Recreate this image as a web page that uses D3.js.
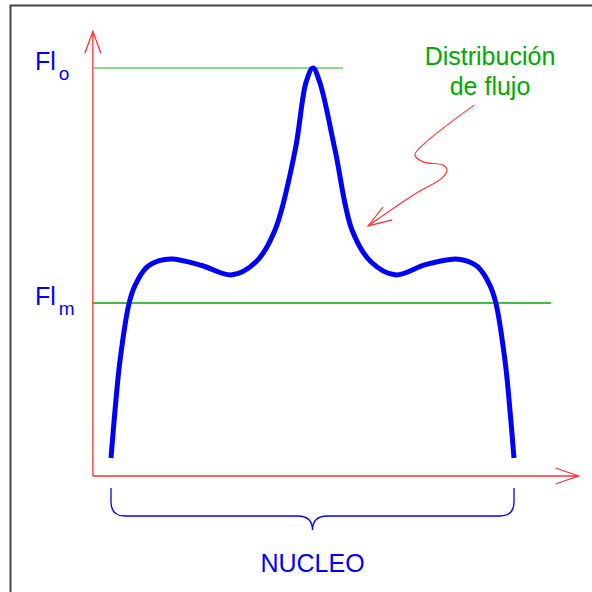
<!DOCTYPE html>
<html>
<head>
<meta charset="utf-8">
<script src="https://cdn.jsdelivr.net/npm/d3@7"></script>
<style>
  body { margin: 0; background: #fff; }
  svg { display: block; }
  text { font-family: "Liberation Sans", Arial, sans-serif; }
</style>
</head>
<body>
<div id="chart"></div>
<script>
// Flux profile across the core (x: % of core width, y: % of peak flux)
let position = [0, 0.9, 2.2, 4.5, 6.0, 8.9, 12.0, 15.4, 22.5, 30.0, 36.0, 40.7, 45.7, 48.4, 50.1,
                51.8, 55.6, 59.8, 64.5, 70.5, 78.0, 85.4, 88.0, 91.1, 94.0, 95.5, 97.8, 99.1, 100];
let flux = [4.4, 15.0, 28.0, 42.4, 46.8, 51.2, 52.8, 53.2, 51.6, 49.3, 52.5, 60.3, 79.9, 96.5, 100,
            96.5, 79.9, 60.3, 52.5, 49.3, 51.8, 53.2, 52.8, 51.2, 46.8, 42.4, 28.0, 15.0, 4.4];

// Reference levels
let levelNames = ['o', 'm'];
let levelValues = [100, 42.4];
let levelEnds = [57.6, 109.2];

// Annotation path (same units as the data)
let noteX = [90.1, 77.9, 75.4, 77.4, 82.4, 83.4, 82.1, 75.9, 63.8];
let noteY = [90.9, 81.6, 78.7, 77.0, 76.2, 75.0, 73.0, 69.4, 61.3];
let noteLines = ['Distribución', 'de flujo'];
let coreLabel = 'NUCLEO';

const width = 592, height = 592;
const red = '#ff3333', blue = '#0000ff';

const x = d3.scaleLinear().domain([0, 100]).range([111, 514]);
const y = d3.scaleLinear().domain([0, 100]).range([476, 68]);

const svg = d3.select('#chart').append('svg')
    .attr('width', width)
    .attr('height', height);

// frame (only top and left edges show)
svg.append('path')
    .attr('d', `M10.5,${height} V5.5 H${width}`)
    .attr('fill', 'none')
    .attr('stroke', '#444')
    .attr('stroke-width', 2);

// axes
const x0 = x(-4.5), x1 = x(116), y0 = y(0), y1 = y(109);
svg.append('path')
    .attr('d', `M${x0},${y0} H${x1} M${x1 - 23},${y0 - 8} L${x1},${y0} L${x1 - 23},${y0 + 8}`)
    .attr('fill', 'none').attr('stroke', red).attr('stroke-width', 1.3);
svg.append('path')
    .attr('d', `M${x0},${y0} V${y1} M${x0 - 8},${y1 + 22} L${x0},${y1} L${x0 + 8},${y1 + 22}`)
    .attr('fill', 'none').attr('stroke', red).attr('stroke-width', 1.3);

// level lines
const levelColors = ['#66cc66', '#00aa00'];
levelValues.forEach((v, i) => {
    svg.append('line')
        .attr('x1', x0).attr('x2', x(levelEnds[i]))
        .attr('y1', y(v)).attr('y2', y(v))
        .attr('stroke', levelColors[i]).attr('stroke-width', 1.3);
    const t = svg.append('text')
        .attr('x', 35).attr('y', y(v) + 2)
        .attr('fill', blue).style('font-size', '25px');
    t.append('tspan').text('Fl');
    t.append('tspan').attr('dx', 3).attr('dy', 10).style('font-size', '19px').text(levelNames[i]);
});

// flux curve and annotation share the same smooth line
const line = d3.line()
    .x(d => x(d[0]))
    .y(d => y(d[1]))
    .curve(d3.curveCatmullRom.alpha(0.5));
svg.append('path')
    .datum(position.map((p, i) => [p, flux[i]]))
    .attr('d', line)
    .attr('fill', 'none')
    .attr('stroke', blue)
    .attr('stroke-width', 5);

// annotation arrow
const note = noteX.map((v, i) => [v, noteY[i]]);
svg.append('path')
    .datum(note)
    .attr('d', line)
    .attr('fill', 'none').attr('stroke', red).attr('stroke-width', 1.2);
const tip = note[note.length - 1];
svg.append('path')
    .attr('d', `M${x(tip[0]) + 15},${y(tip[1]) - 19} L${x(tip[0])},${y(tip[1])} L${x(tip[0]) + 24},${y(tip[1]) - 6}`)
    .attr('fill', 'none').attr('stroke', red).attr('stroke-width', 1.2);

noteLines.forEach((s, i) => {
    svg.append('text')
        .attr('x', 490).attr('y', 65 + i * 30)
        .attr('text-anchor', 'middle')
        .attr('fill', '#00aa00')
        .style('font-size', '25px')
        .text(s);
});

// brace under the core
const bl = x(0), br = x(100), bm = (bl + br) / 2;
const bt = y0 + 12, bh = y0 + 40, bp = y0 + 54, r = 14;
svg.append('path')
    .attr('d', `M${bl},${bt} V${bh - r} Q${bl},${bh} ${bl + r},${bh} H${bm - 15}
                Q${bm},${bh} ${bm},${bp} Q${bm},${bh} ${bm + 15},${bh}
                H${br - r} Q${br},${bh} ${br},${bh - r} V${bt}`)
    .attr('fill', 'none').attr('stroke', blue).attr('stroke-width', 1.3);

svg.append('text')
    .attr('x', bm).attr('y', 572)
    .attr('text-anchor', 'middle')
    .attr('fill', blue)
    .style('font-size', '25px')
    .text(coreLabel);
</script>
</body>
</html>
